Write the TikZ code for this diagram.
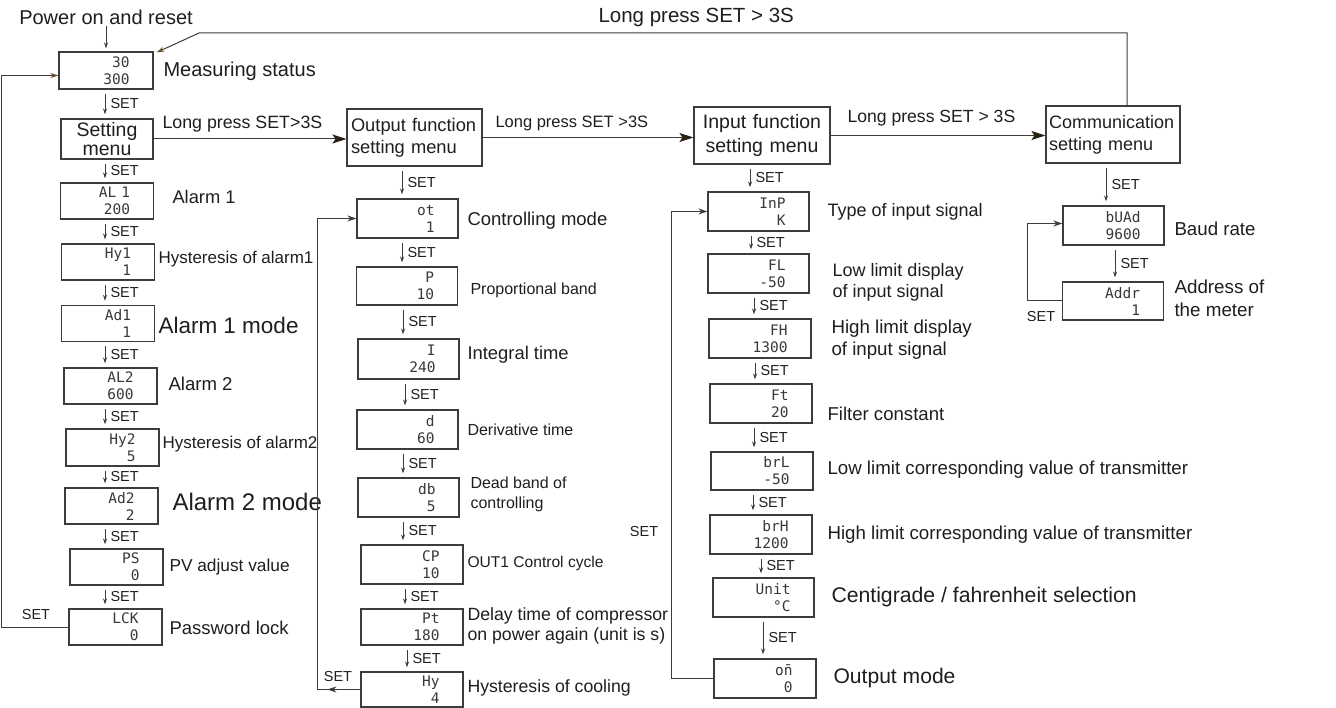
\documentclass[tikz,border=0pt]{standalone}
\usepackage{fontspec}
\setmainfont{Liberation Sans}
\newfontfamily\segfont{DejaVu Sans Mono}
\usetikzlibrary{arrows.meta}
\definecolor{linec}{HTML}{3C3C3C}
\definecolor{txtc}{HTML}{1E1E1E}
\definecolor{segc}{HTML}{383838}
\definecolor{tipc}{HTML}{2A2014}
\definecolor{brownc}{HTML}{6A5028}
\newcommand\setfs[2]{\fontsize{#1}{#2}\selectfont}

\begin{document}
\begin{tikzpicture}[x=1pt, y=-1pt, line width=1pt,
  disp/.style={draw=linec, line width=1.1pt, minimum height=39pt, text width=54pt,
    inner xsep=23.5pt, inner ysep=0pt, align=right, text=segc, font=\segfont\setfs{14.5}{17}},
  dispa/.style={disp, text width=46pt, minimum height=36pt},
  menu/.style={draw=linec, line width=1.1pt, minimum height=57pt, text width=127pt,
    inner xsep=4pt, align=left, text=txtc, font=\setfs{18.3}{22}},
  lbl/.style={anchor=west, inner sep=0pt, align=left, text=txtc, font=\setfs{18}{21}},
  setlbl/.style={inner sep=0pt, text=txtc, font=\setfs{14.5}{16}},
  setarr/.style={draw=linec, -{Stealth[length=6pt,width=4pt]}, shorten <=4pt, shorten >=4pt},
  longarr/.style={draw=linec, -{Stealth[length=14pt,width=9pt,inset=3pt,color=tipc]}},
  looparr/.style={draw=linec, -{Stealth[length=9pt,width=6pt]}},
  retarr/.style={draw=linec, -{Stealth[length=8pt,width=5pt,color=brownc]}}]
\useasboundingbox (0,0) rectangle (1336,708);

% Spalte 1: Messstatus und Einstellmenue
\node[lbl, anchor=center, font=\setfs{20}{22}] (power) at (106,17) {Power on and reset};
\node[dispa, text width=47pt, minimum height=37pt] (meas) at (106,70.5) {30\\300};
\node[menu, text width=84pt, minimum height=38pt, align=center, font=\setfs{19.5}{19}] (setm) at (107,139) {Setting\\menu};
\node[dispa] (al1) at (107,201) {AL 1\\200};
\node[dispa] (hy1) at (108,262) {Hy1\\1};
\node[dispa] (ad1) at (108,323.5) {Ad1\\1};
\node[dispa] (al2) at (110.5,386) {AL2\\600};
\node[dispa, minimum height=37pt] (hy2) at (112.5,447.5) {Hy2\\5};
\node[dispa] (ad2) at (111.5,506) {Ad2\\2};
\node[dispa] (ps) at (116.5,567) {PS\\0};
\node[dispa] (lck) at (115.5,627) {LCK\\0};

\node[lbl, font=\setfs{20}{22}] (tmeas) at (163,71) {Measuring status};
\node[lbl, font=\setfs{18.3}{21}] (tal1) at (172,197) {Alarm 1};
\node[lbl, font=\setfs{17}{20}] (thy1) at (158,259) {Hysteresis of alarm1};
\node[lbl, font=\setfs{22.5}{24}] (tad1) at (158,325) {Alarm 1 mode};
\node[lbl, font=\setfs{18.6}{21}] (tal2) at (168,384) {Alarm 2};
\node[lbl, font=\setfs{17}{20}] (thy2) at (162,444) {Hysteresis of alarm2};
\node[lbl, font=\setfs{24}{26}] (tad2) at (172,502) {Alarm 2 mode};
\node[lbl, font=\setfs{17.3}{20}] (tps) at (169,567) {PV adjust value};
\node[lbl, font=\setfs{18.5}{21}] (tlck) at (169,628) {Password lock};

% Spalte 2: Ausgangsfunktionen
\node[menu] (outm) at (414.5,137.5) {Output function\\setting menu};
\node[disp] (ot) at (407.5,218.5) {ot\\1};
\node[disp, minimum height=38pt] (pb) at (407,286) {P\\10};
\node[disp, minimum height=40pt] (it) at (408.5,359) {I\\240};
\node[disp] (dt) at (407.5,429.5) {d\\60};
\node[disp] (db) at (408.5,497.5) {db\\5};
\node[disp, text width=55pt] (cp) at (412,564.5) {CP\\10};
\node[disp, text width=55pt, minimum height=36pt] (pt) at (412,627) {Pt\\180};
\node[disp, text width=55pt, minimum height=35pt] (hyc) at (412,689.5) {Hy\\4};

\node[lbl, font=\setfs{18.5}{21}] (tot) at (467,221) {Controlling mode};
\node[lbl, font=\setfs{16}{19}] (tpb) at (470,290) {Proportional band};
\node[lbl, font=\setfs{18.4}{21}] (tit) at (467,355) {Integral time};
\node[lbl, font=\setfs{16}{19}] (tdt) at (467,430) {Derivative time};
\node[lbl, font=\setfs{16}{20}] (tdb) at (470,494) {Dead band of\\controlling};
\node[lbl, font=\setfs{15.6}{18}] (tcp) at (467,563) {OUT1 Control cycle};
\node[lbl, font=\setfs{17.7}{20}] (tpt) at (467,626) {Delay time of compressor\\on power again (unit is s)};
\node[lbl, font=\setfs{17.7}{20}] (thyc) at (467,688) {Hysteresis of cooling};

% Spalte 3: Eingangsfunktionen
\node[menu, text width=128pt, align=center, font=\setfs{19.5}{24}] (inm) at (762,135.5) {Input function\\setting menu};
\node[disp] (inp) at (758.5,211.5) {InP\\K};
\node[disp] (fl) at (758.5,273.5) {FL\\-50};
\node[disp, text width=55pt] (fh) at (760,338.5) {FH\\1300};
\node[disp, text width=55pt] (ft) at (761,403.5) {Ft\\20};
\node[disp, text width=55pt, minimum height=38pt] (brl) at (762,471) {brL\\-50};
\node[disp, text width=55pt] (brh) at (761,534.5) {brH\\1200};
\node[disp] (unit) at (763.5,597.5) {Unit\\°C};
\node[disp, text width=55pt] (om) at (765,678.5) {o\={n}\\0};

\node[lbl] (tinp) at (827,212) {Type of input signal};
\node[lbl] (tfl) at (832,282) {Low limit display\\of input signal};
\node[lbl, font=\setfs{18.7}{22}] (tfh) at (831,340) {High limit display\\of input signal};
\node[lbl, font=\setfs{18.6}{21}] (tft) at (827,414) {Filter constant};
\node[lbl, font=\setfs{18.7}{21}] (tbrl) at (827,470) {Low limit corresponding value of transmitter};
\node[lbl, font=\setfs{18.7}{21}] (tbrh) at (827,535) {High limit corresponding value of transmitter};
\node[lbl, font=\setfs{21.2}{24}] (tunit) at (831,597) {Centigrade / fahrenheit selection};
\node[lbl, font=\setfs{21.1}{24}] (tom) at (833,678) {Output mode};

% Spalte 4: Kommunikation
\node[menu, text width=128pt, inner xsep=3pt, font=\setfs{18}{22}] (comm) at (1113,134.5) {Communication\\setting menu};
\node[disp] (baud) at (1113.5,225.5) {bUAd\\9600};
\node[disp, minimum height=38pt] (addr) at (1113,301) {Addr\\1};

\node[lbl, font=\setfs{18.7}{21}] (tbaud) at (1174,229) {Baud rate};
\node[lbl, font=\setfs{18.8}{23}] (taddr) at (1174,298) {Address of\\the meter};

% SET-Pfeile
\draw[setarr, shorten <=1pt, shorten >=3pt] (power) -- (meas);
\coordinate (c1) at (105,0);
\foreach \a/\b in {meas/setm,setm/al1,al1/hy1,hy1/ad1,ad1/al2,al2/hy2,hy2/ad2,ad2/ps,ps/lck}
  \draw[setarr] (\a.south -| c1) -- (\b.north -| c1) node[setlbl, midway, right=5pt] {SET};
\foreach \a/\b/\x in {outm/ot/402,ot/pb/402,pb/it/403,it/dt/405,dt/db/403,db/cp/403,cp/pt/405,pt/hyc/407,
    inm/inp/750,inp/fl/751,fl/fh/754,fh/ft/755,ft/brl/754,brl/brh/753,brh/unit/761,unit/om/763,
    comm/baud/1106,baud/addr/1115}{
  \coordinate (cx) at (\x,0);
  \draw[setarr] (\a.south -| cx) -- (\b.north -| cx) node[setlbl, midway, right=5pt] {SET};
}

% lange Tastendruecke
\draw[longarr] (setm.east) -- (setm.east -| outm.west);
\draw[longarr] (outm.east) -- (outm.east -| inm.west);
\draw[longarr] (inm.east) -- (inm.east -| comm.west);
\node[lbl, font=\setfs{17.8}{20}] (lpa) at (162,124) {Long press SET>3S};
\node[lbl, font=\setfs{16.5}{19}] (lpb) at (495,123) {Long press SET >3S};
\node[lbl, font=\setfs{17.6}{20}] (lpc) at (847,118) {Long press SET > 3S};
\node[lbl, font=\setfs{20.5}{22}] (lpd) at (598,17) {Long press SET > 3S};

% Ruecksprung zum Messstatus
\coordinate (ret) at (1127,33);
\coordinate (retb) at (199,33);
\draw[retarr] (comm.north -| ret) -- (ret) -- (retb) -- ([xshift=3pt,yshift=-1pt]meas.north east);

% Schleifen
\coordinate (lp1) at (1,0);
\draw[retarr] (lck.west) -- (lck.west -| lp1) |- ([yshift=-5pt]meas.west);
\node[setlbl] (s1) at (36,615) {SET};

\coordinate (lp2) at (317,0);
\draw[looparr] (hyc.west) -- ([xshift=-33pt]hyc.west);
\draw[looparr] ([xshift=-30pt]hyc.west) -- (hyc.west -| lp2) |- (ot.west);
\node[setlbl] (s2) at (338,677) {SET};

\coordinate (lp3) at (671,0);
\draw[looparr] (om.west) -- (om.west -| lp3) |- (inp.west);
\node[setlbl] (s3) at (644,532) {SET};

\coordinate (lp4) at (1027,0);
\draw[looparr] (addr.west) -- (addr.west -| lp4) |- ([yshift=2pt]baud.west);
\node[setlbl] (s4) at (1041,317) {SET};

\end{tikzpicture}
\end{document}
